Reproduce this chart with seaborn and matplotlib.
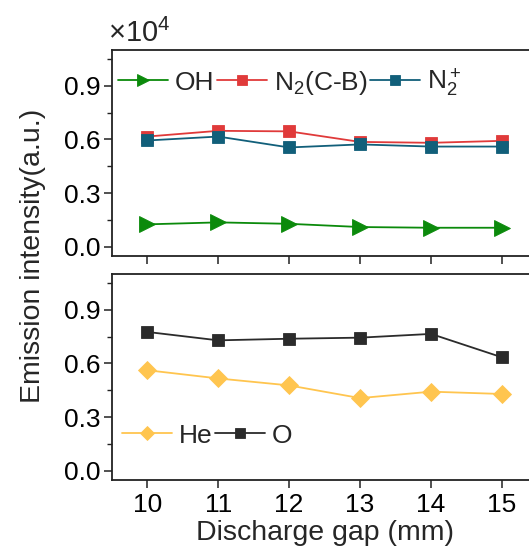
import matplotlib
matplotlib.use("Agg")
import matplotlib.pyplot as plt
from matplotlib.ticker import MultipleLocator
import seaborn as sns
import pandas as pd

sns.set_theme(style="ticks")
plt.rcParams["font.family"] = ["Liberation Sans", "DejaVu Sans"]
plt.rcParams["mathtext.fontset"] = "custom"
plt.rcParams["mathtext.rm"] = "Liberation Sans"
plt.rcParams["mathtext.it"] = "Liberation Sans"
plt.rcParams["mathtext.default"] = "regular"

# Discharge gap (mm)
gap = [10, 11, 12, 13, 14, 15]

# Emission intensities (x10^4 a.u.)
oh = [0.125, 0.136, 0.128, 0.110, 0.106, 0.106]
n2_cb = [0.616, 0.648, 0.645, 0.586, 0.581, 0.592]
n2_plus = [0.594, 0.616, 0.555, 0.572, 0.560, 0.560]
he = [0.562, 0.516, 0.477, 0.406, 0.442, 0.429]
o = [0.776, 0.729, 0.738, 0.744, 0.765, 0.634]

yticks = [0.0, 0.3, 0.6, 0.9]
xticks = gap

W, H = 529, 547
fig = plt.figure(figsize=(W / 100, H / 100), dpi=100)

left = 111.7 / W
width = (537.5 - 111.7) / W
ax_top = fig.add_axes([left, 1 - 256 / H, width, 206 / H])
ax_bot = fig.add_axes([left, 1 - 480 / H, width, 206 / H])

top_series = [
    ("OH", oh, "#0b8a0b", ">", 11),
    ("N$_2$(C-B)", n2_cb, "#e03a3a", "s", 8.5),
    ("N$_2^+$", n2_plus, "#115f7a", "s", 8.5),
]
bot_series = [
    ("He", he, "#ffc54f", "D", 9),
    ("O", o, "#2b2b2b", "s", 8.5),
]

def draw(ax, series):
    for label, vals, color, marker, ms in series:
        df = pd.DataFrame({"gap": gap, "val": vals})
        sns.lineplot(data=df, x="gap", y="val", ax=ax, color=color,
                     marker=marker, markersize=ms, markeredgecolor=color,
                     markeredgewidth=0.6, linewidth=1.3, label=label)

draw(ax_top, top_series)
draw(ax_bot, bot_series)

for ax in (ax_top, ax_bot):
    ax.set_xlim(9.5, 15.5)
    ax.set_ylim(-0.052, 1.1)
    ax.set_xticks(xticks)
    ax.set_yticks(yticks)
    ax.yaxis.set_minor_locator(MultipleLocator(0.15))
    ax.set_yticklabels([f"{v:.1f}" for v in yticks])
    ax.set_xlabel("")
    ax.set_ylabel("")
    for sp in ax.spines.values():
        sp.set_linewidth(1.3)
        sp.set_color("#222222")
    ax.tick_params(axis="both", which="major", direction="out", length=6,
                   width=1.1, labelsize=19, color="#222222", labelcolor="black",
                   pad=2)
    ax.tick_params(axis="y", which="minor", direction="out", length=3.5,
                   width=1.0, color="#222222")

ax_top.tick_params(axis="x", labelbottom=False)
ax_bot.set_xticklabels([str(v) for v in xticks])
ax_bot.tick_params(axis="x", labelsize=19, pad=3)

leg_kw = dict(frameon=False, fontsize=19, handlelength=1.9, handletextpad=0.25,
              columnspacing=0.1, borderaxespad=0.0, borderpad=0.0,
              markerscale=0.8, loc="center left")
ax_top.legend(ncol=3, bbox_to_anchor=(0.015, 0.84), **leg_kw)
ax_bot.legend(ncol=2, bbox_to_anchor=(0.024, 0.215), **leg_kw)

fig.text(108 / W, 1 - 33 / H, r"$\times10^4$", fontsize=21,
         ha="left", va="center")
fig.text(33 / W, 1 - 256 / H, "Emission intensity(a.u.)", fontsize=20.5,
         rotation=90, ha="center", va="center")
fig.text(324.5 / W, 1 / H, "Discharge gap (mm)", fontsize=20.5,
         ha="center", va="bottom")

fig.savefig("out.png", dpi=100)
